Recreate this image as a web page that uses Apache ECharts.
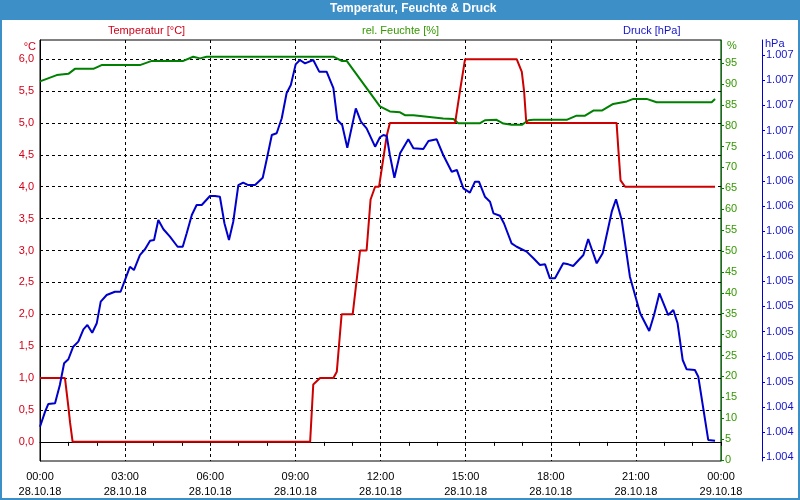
<!DOCTYPE html>
<html>
<head>
<meta charset="utf-8">
<script src="https://cdn.jsdelivr.net/npm/echarts@6/dist/echarts.min.js"></script>
<style>
html,body{margin:0;padding:0;background:#fff;}
#chart{width:800px;height:500px;}
</style>
</head>
<body>
<div id="chart"></div>
<script>
// ---- Data (hours since 28.10.18 00:00) ----
const tempHours = [0, 0.88, 1.0, 1.06, 1.15, 9.52, 9.63, 9.87, 10.34, 10.46, 10.63, 11.02, 11.28, 11.51, 11.65, 11.81, 11.95, 12.22, 12.33, 14.63, 14.80, 14.98, 16.80, 16.98, 17.06, 17.13, 17.16, 20.32, 20.38, 20.46, 20.62, 23.79];
const tempValues = [1.0, 1.0, 0.55, 0.3, 0.0, 0.0, 0.9, 1.0, 1.0, 1.1, 2.0, 2.0, 3.0, 3.0, 3.8, 4.0, 4.0, 4.8, 5.0, 5.0, 5.5, 6.0, 6.0, 5.8, 5.5, 5.05, 5.0, 5.0, 4.6, 4.1, 4.0, 4.0];

const humHours = [0, 0.59, 1.0, 1.23, 1.88, 2.17, 3.52, 3.94, 5.05, 5.40, 5.64, 5.87, 10.34, 10.63, 10.81, 11.98, 12.33, 12.69, 12.86, 13.16, 14.21, 14.57, 14.74, 15.51, 15.68, 16.09, 16.33, 16.62, 16.98, 17.21, 17.39, 18.56, 18.91, 19.21, 19.50, 19.80, 20.20, 20.68, 20.91, 21.38, 21.73, 23.67, 23.79];
const humValues = [90.6, 92.1, 92.4, 93.6, 93.6, 94.5, 94.5, 95.5, 95.5, 96.5, 96.1, 96.5, 96.5, 95.5, 95.5, 84.6, 83.4, 83.2, 82.5, 82.5, 81.7, 81.6, 80.6, 80.6, 81.3, 81.4, 80.5, 80.2, 80.2, 81.3, 81.4, 81.4, 82.4, 82.4, 83.6, 83.6, 85.2, 85.8, 86.4, 86.4, 85.6, 85.6, 86.4];

const presHours = [0.00, 0.18, 0.29, 0.53, 0.70, 0.85, 1.00, 1.17, 1.35, 1.53, 1.67, 1.84, 2.00, 2.14, 2.35, 2.64, 2.84, 3.06, 3.17, 3.31, 3.52, 3.70, 3.88, 4.02, 4.17, 4.35, 4.58, 4.85, 5.03, 5.17, 5.35, 5.52, 5.70, 5.99, 6.17, 6.34, 6.50, 6.66, 6.81, 6.99, 7.16, 7.34, 7.58, 7.85, 8.01, 8.17, 8.34, 8.52, 8.69, 8.84, 9.01, 9.16, 9.34, 9.63, 9.84, 10.10, 10.34, 10.48, 10.65, 10.83, 11.13, 11.31, 11.51, 11.81, 11.98, 12.10, 12.22, 12.33, 12.49, 12.69, 12.98, 13.16, 13.51, 13.69, 13.98, 14.21, 14.51, 14.69, 14.92, 15.15, 15.33, 15.47, 15.68, 15.86, 15.98, 16.21, 16.35, 16.62, 16.80, 17.15, 17.39, 17.62, 17.80, 17.97, 18.15, 18.44, 18.62, 18.79, 19.15, 19.32, 19.62, 19.83, 20.15, 20.30, 20.50, 20.79, 21.15, 21.47, 21.64, 21.83, 22.14, 22.32, 22.47, 22.65, 22.79, 23.08, 23.20, 23.55, 23.79];
const presValues = [1004.143, 1004.263, 1004.324, 1004.330, 1004.475, 1004.648, 1004.680, 1004.780, 1004.820, 1004.918, 1004.953, 1004.891, 1004.966, 1005.138, 1005.191, 1005.217, 1005.217, 1005.350, 1005.416, 1005.390, 1005.509, 1005.555, 1005.623, 1005.629, 1005.788, 1005.714, 1005.655, 1005.575, 1005.575, 1005.682, 1005.828, 1005.907, 1005.907, 1005.979, 1005.979, 1005.973, 1005.762, 1005.629, 1005.774, 1006.066, 1006.085, 1006.066, 1006.066, 1006.124, 1006.291, 1006.464, 1006.478, 1006.597, 1006.796, 1006.862, 1007.026, 1007.061, 1007.034, 1007.061, 1006.968, 1006.968, 1006.836, 1006.583, 1006.544, 1006.363, 1006.676, 1006.570, 1006.517, 1006.371, 1006.446, 1006.464, 1006.456, 1006.305, 1006.124, 1006.318, 1006.430, 1006.358, 1006.353, 1006.416, 1006.430, 1006.305, 1006.172, 1006.186, 1006.040, 1006.005, 1006.093, 1006.093, 1005.973, 1005.933, 1005.841, 1005.822, 1005.762, 1005.602, 1005.575, 1005.536, 1005.483, 1005.430, 1005.435, 1005.324, 1005.324, 1005.443, 1005.435, 1005.422, 1005.509, 1005.637, 1005.443, 1005.523, 1005.854, 1005.953, 1005.788, 1005.337, 1005.046, 1004.905, 1005.032, 1005.205, 1005.032, 1005.072, 1004.966, 1004.674, 1004.600, 1004.595, 1004.541, 1004.038, 1004.032];

// ---- Tick labels ----
const xTickHours = [0, 3, 6, 9, 12, 15, 18, 21, 24];
const xTickLabels = ['00:00\n28.10.18', '03:00\n28.10.18', '06:00\n28.10.18', '09:00\n28.10.18', '12:00\n28.10.18', '15:00\n28.10.18', '18:00\n28.10.18', '21:00\n28.10.18', '00:00\n29.10.18'];
const tempTicks = [0, 0.5, 1, 1.5, 2, 2.5, 3, 3.5, 4, 4.5, 5, 5.5, 6];
const humTicks = [0, 5, 10, 15, 20, 25, 30, 35, 40, 45, 50, 55, 60, 65, 70, 75, 80, 85, 90, 95];
const presTicks = [1003.9, 1004.1, 1004.3, 1004.5, 1004.7, 1004.9, 1005.1, 1005.3, 1005.5, 1005.7, 1005.9, 1006.1, 1006.3, 1006.5, 1006.7, 1006.9, 1007.1];

const seriesNames = ['Temperatur [°C]', 'rel. Feuchte [%]', 'Druck [hPa]'];

const RED = '#cc0000', RED_T = '#d40018';
const GREEN = '#008000', GREEN_T = '#339900';
const BLUE = '#0000cc', BLUE_T = '#1414cc';
const FRAME = '#3d8fc7';
const FONT = 'Tahoma, "Liberation Sans", Arial, sans-serif';

function zip(a, b) { return a.map((v, i) => [v, b[i]]); }
function fmtPres(v) {
  const r = Math.round(v);
  return Math.floor(r / 1000) + '.' + String(r % 1000).padStart(3, '0');
}

const chart = echarts.init(document.getElementById('chart'), null, {renderer: 'canvas'});
const dash = {color: '#000', width: 1, type: [3, 3]};

chart.setOption({
  animation: false,
  backgroundColor: '#ffffff',
  textStyle: {fontFamily: FONT},
  title: {
    text: 'Temperatur, Feuchte & Druck',
    left: 330, top: 3, padding: 0,
    textStyle: {color: '#fff', fontSize: 12, fontWeight: 'bold', fontFamily: FONT}
  },
  graphic: [
    {type: 'rect', z: -10, shape: {x: 0, y: 0, width: 800, height: 20}, style: {fill: FRAME}},
    {type: 'rect', z: 100, shape: {x: 1, y: 1, width: 798, height: 498}, style: {fill: 'none', stroke: FRAME, lineWidth: 2}}
  ],
  legend: [
    {data: [{name: seriesNames[0], textStyle: {color: RED_T}}], left: 103, top: 24, icon: 'none', itemWidth: 0, itemHeight: 14, selectedMode: false, padding: 0, textStyle: {fontSize: 11, fontFamily: FONT}},
    {data: [{name: seriesNames[1], textStyle: {color: GREEN_T}}], left: 357, top: 24, icon: 'none', itemWidth: 0, itemHeight: 14, selectedMode: false, padding: 0, textStyle: {fontSize: 11, fontFamily: FONT}},
    {data: [{name: seriesNames[2], textStyle: {color: BLUE_T}}], left: 618, top: 24, icon: 'none', itemWidth: 0, itemHeight: 14, selectedMode: false, padding: 0, textStyle: {fontSize: 11, fontFamily: FONT}}
  ],
  grid: {left: 40, right: 79, top: 40, bottom: 39, show: true, borderColor: '#000', borderWidth: 1, backgroundColor: 'transparent'},
  xAxis: {
    type: 'value', min: 0, max: 24, interval: 3,
    axisLine: {show: true, lineStyle: {color: '#000', width: 1}},
    axisTick: {show: true, length: 4, lineStyle: {color: '#000'}},
    minorTick: {show: true, splitNumber: 3, length: 4, lineStyle: {color: '#000'}},
    splitLine: {show: true, lineStyle: dash},
    axisLabel: {
      color: '#000', fontSize: 11, lineHeight: 15, margin: 8, fontFamily: FONT,
      formatter: v => xTickLabels[xTickHours.indexOf(v)] || ''
    }
  },
  yAxis: [
    {
      type: 'value', position: 'left', min: -0.3, max: 6.3,
      name: '°C', nameLocation: 'end', nameGap: -7,
      nameTextStyle: {color: RED_T, fontSize: 11, align: 'right', verticalAlign: 'middle', padding: [0, 4, 0, 0], fontFamily: FONT},
      axisLine: {show: true, lineStyle: {color: '#000'}},
      axisTick: {show: false, customValues: tempTicks},
      splitLine: {show: true, lineStyle: dash},
      axisLabel: {customValues: tempTicks, color: RED_T, fontSize: 11, margin: 6, fontFamily: FONT,
        formatter: v => v.toFixed(1).replace('.', ',')}
    },
    {
      type: 'value', position: 'right', min: -0.25, max: 100.5,
      name: '%', nameLocation: 'end', nameGap: -6,
      nameTextStyle: {color: GREEN_T, fontSize: 11, align: 'left', verticalAlign: 'middle', padding: [0, 0, 0, 6], fontFamily: FONT},
      axisLine: {show: true, lineStyle: {color: GREEN, width: 1}},
      axisTick: {show: true, length: 3, customValues: humTicks, lineStyle: {color: GREEN}},
      splitLine: {show: false},
      axisLabel: {customValues: humTicks, color: GREEN_T, fontSize: 11, margin: 4, fontFamily: FONT,
        formatter: v => String(Math.round(v))}
    },
    {
      type: 'value', position: 'right', offset: 41, min: 1003.8706, max: 1007.2198,
      name: 'hPa', nameLocation: 'end', nameGap: -6,
      nameTextStyle: {color: BLUE_T, fontSize: 11, align: 'left', verticalAlign: 'middle', padding: [0, 0, 0, 3], fontFamily: FONT},
      axisLine: {show: true, lineStyle: {color: BLUE, width: 1}},
      axisTick: {show: true, length: 3, customValues: presTicks, lineStyle: {color: BLUE}},
      splitLine: {show: false},
      axisLabel: {customValues: presTicks, color: BLUE_T, fontSize: 11, margin: 4, fontFamily: FONT,
        formatter: v => fmtPres(v)}
    }
  ],
  series: [
    {name: seriesNames[1], type: 'line', yAxisIndex: 1, data: zip(humHours, humValues), showSymbol: false, lineStyle: {color: GREEN, width: 2}, itemStyle: {color: GREEN}, z: 2},
    {name: seriesNames[0], type: 'line', yAxisIndex: 0, data: zip(tempHours, tempValues), showSymbol: false, lineStyle: {color: RED, width: 2}, itemStyle: {color: RED}, z: 3},
    {name: seriesNames[2], type: 'line', yAxisIndex: 2, data: zip(presHours, presValues), showSymbol: false, lineStyle: {color: BLUE, width: 2}, itemStyle: {color: BLUE}, z: 4}
  ]
});
</script>
</body>
</html>
